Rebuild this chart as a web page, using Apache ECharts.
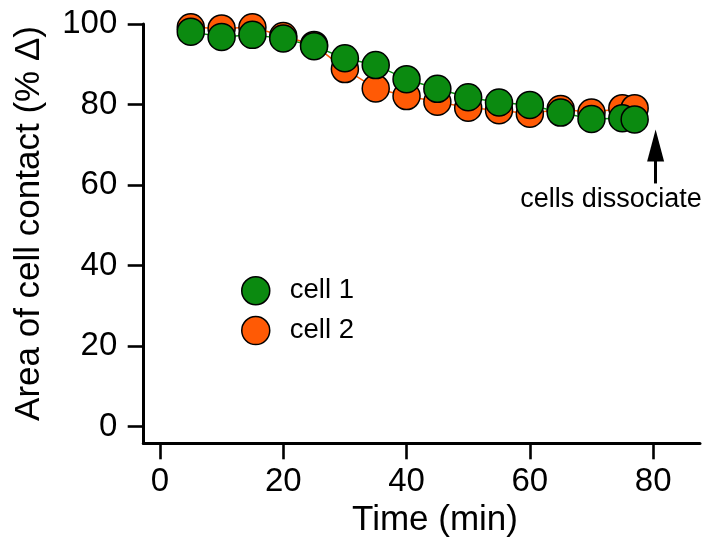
<!DOCTYPE html>
<html>
<head>
<meta charset="utf-8">
<script src="https://cdn.jsdelivr.net/npm/echarts@6/dist/echarts.min.js"></script>
<style>html,body{margin:0;padding:0;background:#fff}#main{width:714px;height:553px}</style>
</head>
<body>
<div id="main"></div>
<script>
var times = [5, 10, 15, 20, 25, 30, 35, 40, 45, 50, 55, 60, 65, 70, 75, 77];
var cell1 = [98.1, 96.8, 97.3, 96.4, 94.5, 91.5, 89.8, 86.3, 83.9, 81.8, 80.5, 79.9, 78.0, 76.4, 76.6, 76.3];
var cell2 = [99.2, 98.9, 99.2, 97.0, 94.8, 88.8, 84.0, 82.1, 80.7, 79.2, 78.6, 77.7, 78.9, 78.0, 79.1, 79.1];
var xTicks = [0, 20, 40, 60, 80];
var yTicks = [0, 20, 40, 60, 80, 100];
var seriesNames = ['cell 1', 'cell 2'];
var arrowX = 80.4, arrowFrom = 60.4, arrowTo = 69.8;
var annotation = 'cells dissociate';
var xTitle = 'Time (min)';
var yTitle = 'Area of cell contact (% \u0394)';

var GREEN = '#0b8a10', ORANGE = '#ff5a05';
var FONT = '"Liberation Sans", Arial, Helvetica, sans-serif';

function pairs(xs, ys) { return xs.map(function (x, i) { return [x, ys[i]]; }); }

var chart = echarts.init(document.getElementById('main'));
chart.setOption({
  animation: false,
  backgroundColor: '#fff',
  grid: { left: 143.3, right: 14, top: 24, bottom: 109.7, containLabel: false },
  xAxis: {
    type: 'value', min: -2.7, max: 87.6,
    splitLine: { show: false },
    axisLine: { show: true, onZero: false, lineStyle: { color: '#000', width: 3 } },
    axisTick: { show: true, length: 16, customValues: xTicks, lineStyle: { color: '#000', width: 2.6 } },
    axisLabel: { customValues: xTicks, margin: 22, color: '#000', fontSize: 33, fontFamily: FONT }
  },
  yAxis: {
    type: 'value', min: -4.13, max: 100,
    splitLine: { show: false },
    axisLine: { show: true, onZero: false, lineStyle: { color: '#000', width: 3 } },
    axisTick: { show: true, length: 15.6, customValues: yTicks, lineStyle: { color: '#000', width: 2.6 } },
    axisLabel: { customValues: yTicks, margin: 26, color: '#000', fontSize: 33, fontFamily: FONT, padding: [6, 0, 0, 0] }
  },
  legend: {
    orient: 'vertical', left: 241, top: 276, padding: 0, itemWidth: 28, itemHeight: 28, itemGap: 10.3,
    selectedMode: false,
    textStyle: { color: '#000', fontSize: 27.5, fontFamily: FONT, padding: [0, 0, 0, 15] },
    data: [
      { name: seriesNames[0], icon: 'circle', itemStyle: { color: GREEN, borderColor: '#000', borderWidth: 1.5 } },
      { name: seriesNames[1], icon: 'circle', itemStyle: { color: ORANGE, borderColor: '#000', borderWidth: 1.5 } }
    ]
  },
  series: [
    { name: 'line2', type: 'line', data: pairs(times, cell2), symbol: 'none', lineStyle: { color: ORANGE, width: 1.5 }, z: 2,
      markLine: {
        silent: true, symbol: ['none', 'triangle'], symbolSize: [17, 32], label: { show: false },
        lineStyle: { color: '#000', width: 3, type: 'solid' }, itemStyle: { color: '#000' },
        data: [[{ coord: [arrowX, arrowFrom] }, { coord: [arrowX, arrowTo] }]]
      }
    },
    { name: seriesNames[1], type: 'scatter', data: pairs(times, cell2), symbolSize: 27, z: 3,
      itemStyle: { color: ORANGE, borderColor: '#000', borderWidth: 1.5, opacity: 1 } },
    { name: 'line1', type: 'line', data: pairs(times, cell1), symbol: 'none', lineStyle: { color: GREEN, width: 1.5 }, z: 4 },
    { name: seriesNames[0], type: 'scatter', data: pairs(times, cell1), symbolSize: 27, z: 5,
      itemStyle: { color: GREEN, borderColor: '#000', borderWidth: 1.5, opacity: 1 } }
  ],
  graphic: [
    { type: 'text', x: 435, y: 520, style: { text: xTitle, fill: '#000', font: '35px ' + FONT, textAlign: 'center', textVerticalAlign: 'middle' } },
    { type: 'text', x: 29, y: 223.5, rotation: Math.PI / 2, style: { text: yTitle, fill: '#000', font: '35px ' + FONT, textAlign: 'center', textVerticalAlign: 'middle' } },
    { type: 'text', x: 611, y: 200, style: { text: annotation, fill: '#000', font: '27px ' + FONT, textAlign: 'center', textVerticalAlign: 'middle' } }
  ]
});
</script>
</body>
</html>
